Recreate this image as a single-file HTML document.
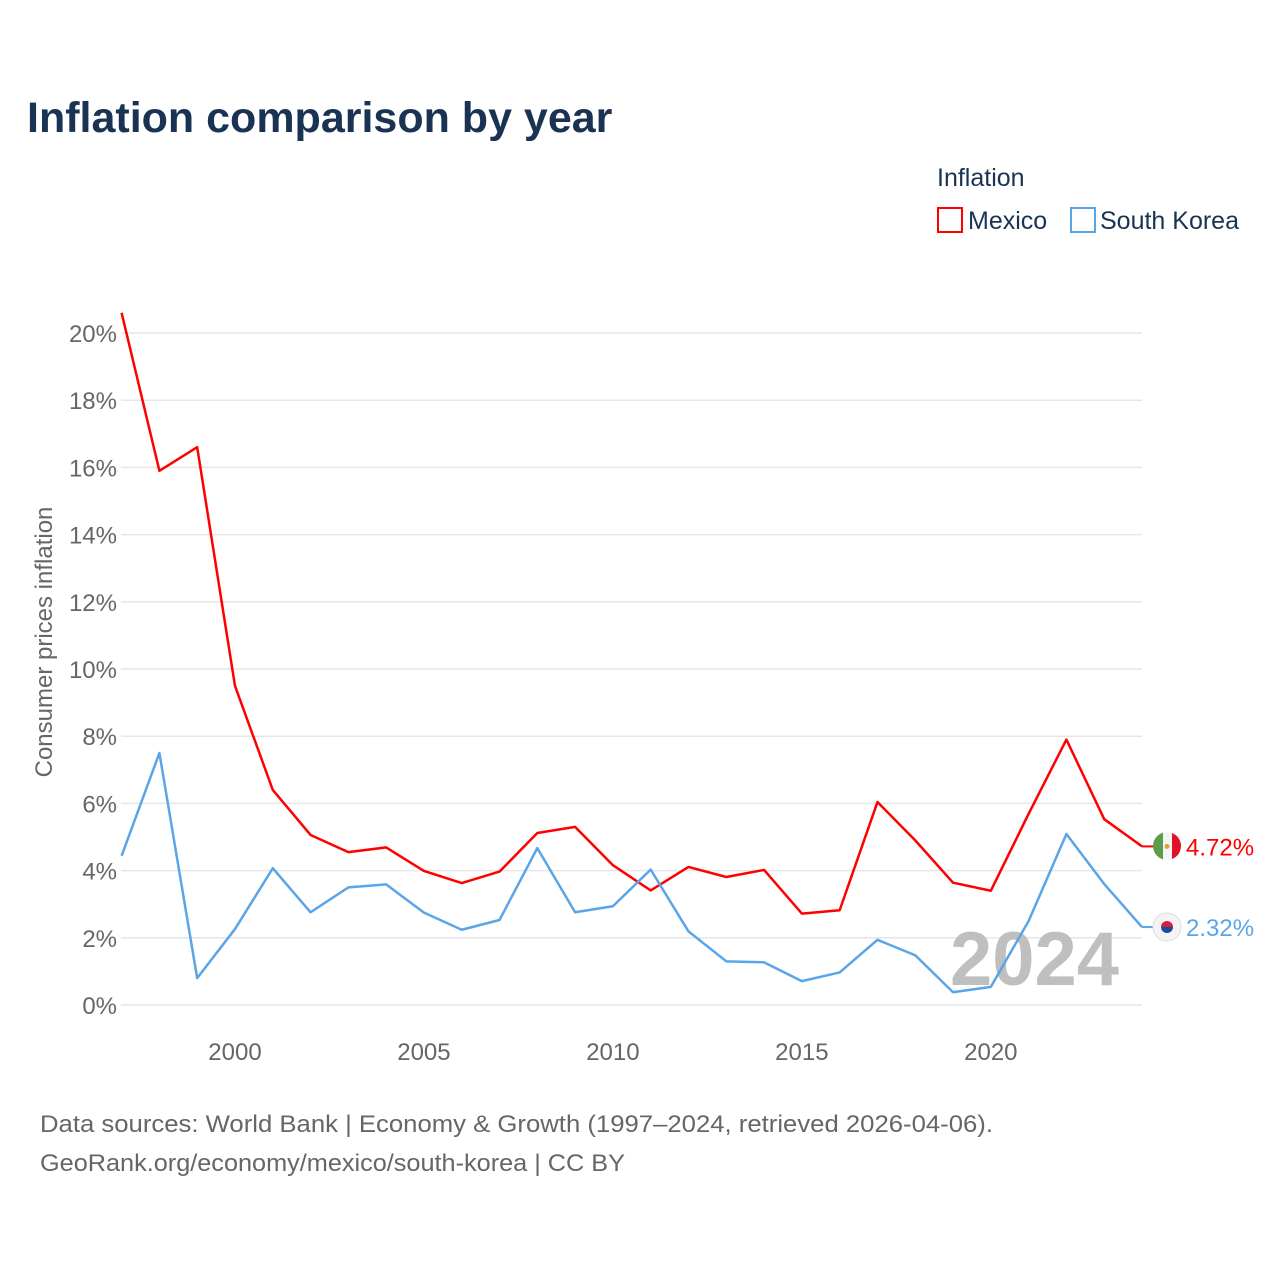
<!DOCTYPE html>
<html><head><meta charset="utf-8">
<style>
body{margin:0;background:#fff;font-family:"Liberation Sans",sans-serif;}
svg text{font-family:"Liberation Sans",sans-serif;}
</style></head>
<body>
<svg id="chart" width="1280" height="1280" viewBox="0 0 1280 1280">
<defs>
<clipPath id="flagclip1"><circle cx="1167" cy="846" r="14"/></clipPath>
<clipPath id="flagclip2"><circle cx="1167" cy="927" r="14"/></clipPath>
</defs>
<text x="27" y="132" font-size="43" font-weight="bold" fill="#1a3352">Inflation comparison by year</text>
<text x="937" y="186" font-size="25" fill="#1a3352">Inflation</text>
<g>
<rect x="938" y="208" width="24" height="24" fill="none" stroke="#ff0000" stroke-width="2"/>
<text x="968" y="229" font-size="25" fill="#1a3352">Mexico</text></g>
<g>
<rect x="1071" y="208" width="24" height="24" fill="none" stroke="#5aa5e8" stroke-width="2"/>
<text x="1100" y="229" font-size="25" fill="#1a3352">South Korea</text></g>
<g id="grid"></g>
<text x="950" y="985" font-size="76" font-weight="bold" fill="#bfbfbf">2024</text>
<g id="series"></g>
<text transform="translate(52,642) rotate(-90)" text-anchor="middle" font-size="24" fill="#666">Consumer prices inflation</text>
<text x="40" y="1132" font-size="24" fill="#666" textLength="953" lengthAdjust="spacingAndGlyphs">Data sources: World Bank | Economy &amp; Growth (1997–2024, retrieved 2026-04-06).</text>
<text x="40" y="1171" font-size="24" fill="#666" textLength="585" lengthAdjust="spacingAndGlyphs">GeoRank.org/economy/mexico/south-korea | CC BY</text>
</svg>
<script>
const years=[1997,1998,1999,2000,2001,2002,2003,2004,2005,2006,2007,2008,2009,2010,2011,2012,2013,2014,2015,2016,2017,2018,2019,2020,2021,2022,2023,2024];
const mexico=[20.6,15.9,16.6,9.5,6.4,5.06,4.55,4.69,3.99,3.63,3.97,5.12,5.3,4.16,3.41,4.11,3.81,4.02,2.72,2.82,6.04,4.9,3.64,3.4,5.69,7.9,5.53,4.72];
const korea=[4.44,7.5,0.8,2.26,4.07,2.76,3.5,3.59,2.75,2.24,2.53,4.67,2.76,2.94,4.03,2.19,1.3,1.27,0.71,0.97,1.94,1.48,0.38,0.54,2.5,5.09,3.6,2.32];
const yTicks=[0,2,4,6,8,10,12,14,16,18,20];
const xTicks=[2000,2005,2010,2015,2020];
const NS="http://www.w3.org/2000/svg";
const x=v=>121.6+(v-1997)*(1142-121.6)/27;
const y=v=>1005-v*33.6;
function mk(t,a,p){const e=document.createElementNS(NS,t);for(const k in a)e.setAttribute(k,a[k]);p.appendChild(e);return e;}
const grid=document.getElementById('grid');
yTicks.forEach(t=>{
 const l=mk('line',{x1:121,x2:1142,y1:y(t),y2:y(t),stroke:'#e6e6e6','stroke-width':1.5},grid);
 
 
 const tx=mk('text',{x:117,y:y(t)+9,'text-anchor':'end','font-size':24,fill:'#666'},grid);
 tx.textContent=t+'%';
 
 
});
xTicks.forEach(t=>{
 const tx=mk('text',{x:x(t),y:1060,'text-anchor':'middle','font-size':24,fill:'#666'},grid);
 tx.textContent=t;
 
 
});
const s=document.getElementById('series');
function flag(name,cx,cy){
 const g=mk('g',{},s);
 
 
 if(name==='mexico'){
  const cg=mk('g',{'clip-path':'url(#flagclip1)'},g);
  mk('rect',{x:cx-14,y:cy-14,width:10,height:28,fill:'#5a9e4a'},cg);
  mk('rect',{x:cx-4,y:cy-14,width:9,height:28,fill:'#f4f4f4'},cg);
  mk('rect',{x:cx+5,y:cy-14,width:10,height:28,fill:'#e3102a'},cg);
  mk('circle',{cx:cx,cy:cy,r:2.5,fill:'#d9a233'},g);
 } else {
  mk('circle',{cx:cx,cy:cy,r:14,fill:'#f4f4f4',stroke:'#ddd'},g);
  mk('path',{d:`M${cx-6},${cy} A6,6 0 0 1 ${cx+6},${cy} Z`,fill:'#d1233a'},g);
  mk('path',{d:`M${cx-6},${cy} A6,6 0 0 0 ${cx+6},${cy} Z`,fill:'#1a4aa0'},g);
 }
}
function line(vals,col,name){
 const p=mk('polyline',{points:vals.map((v,i)=>x(years[i])+','+y(v)).join(' '),fill:'none',stroke:col,'stroke-width':2.5,'stroke-linejoin':'round'},s);
 
 
 const last=vals[vals.length-1];
 mk('line',{x1:x(2024),x2:x(2024)+12,y1:y(last),y2:y(last),stroke:col,'stroke-width':2},s);
 flag(name,x(2024)+25,y(last));
 const t=mk('text',{x:x(2024)+44,y:y(last)+9,'font-size':24,fill:col},s);
 t.textContent=last.toFixed(2)+'%';
 
 
}
line(mexico,'#ff0000','mexico');
line(korea,'#5aa5e8','south-korea');
</script>
</body></html>
